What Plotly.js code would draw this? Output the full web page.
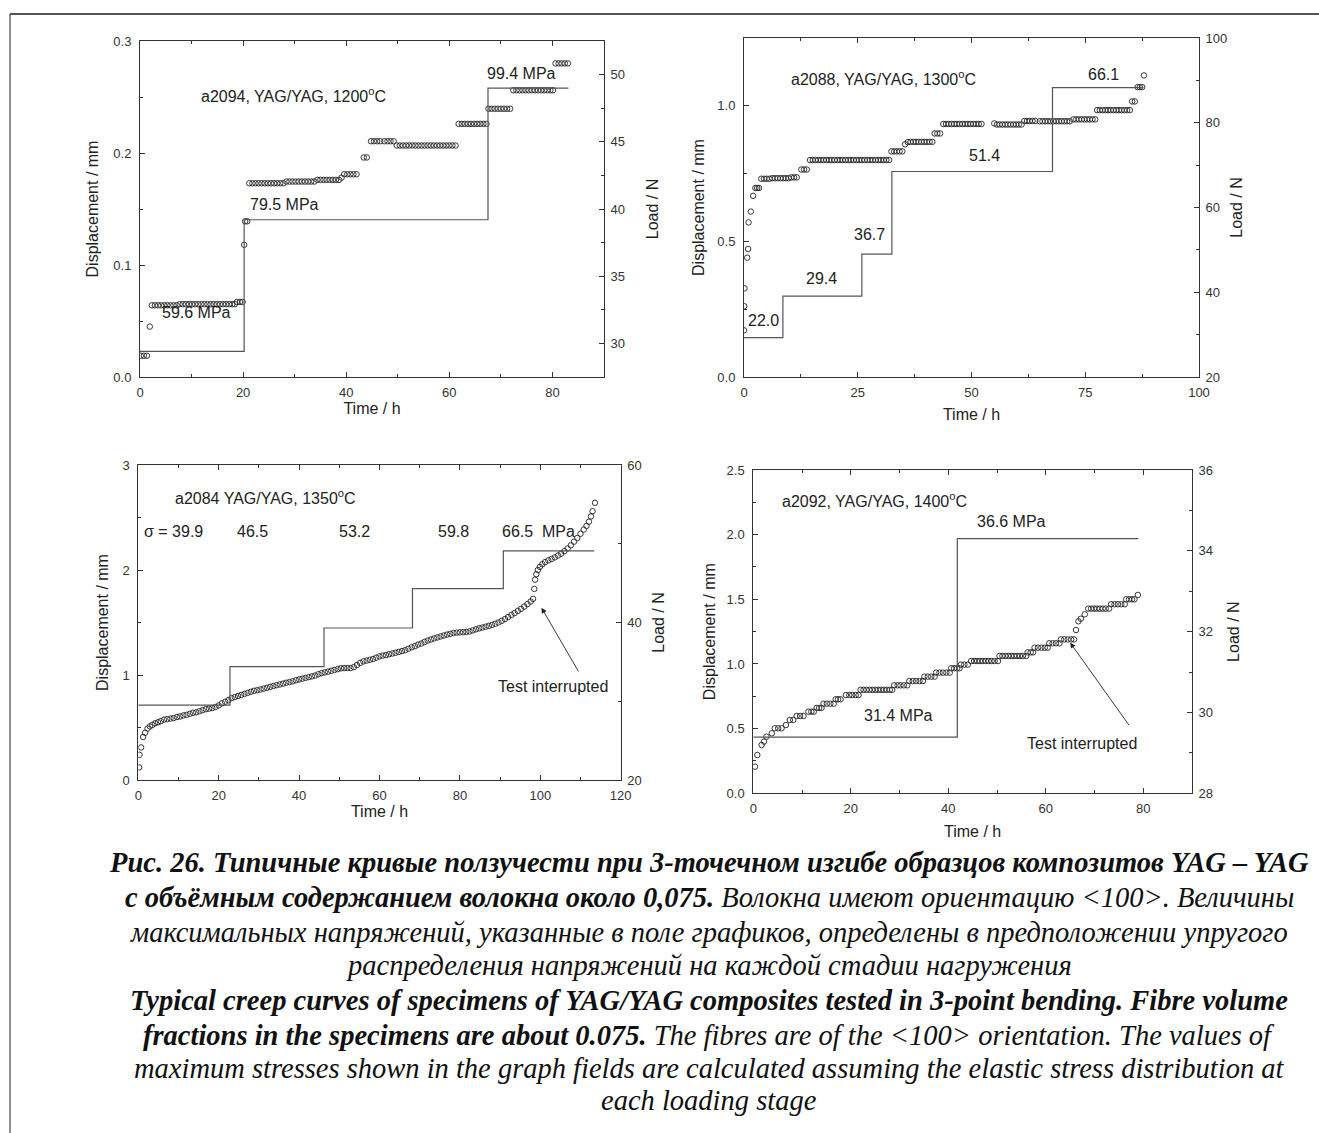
<!DOCTYPE html>
<html>
<head>
<meta charset="utf-8">
<script src="https://cdn.plot.ly/plotly-3.0.1.min.js"></script>
<style>
html,body{margin:0;padding:0;background:#fff;}
#chart{width:1319px;height:1133px;}
</style>
</head>
<body>
<div id="chart"></div>
<script>
// ---------------- DATA ----------------
// Chart 1: a2094, 1200 C  [time h, displacement mm]
const creep1 = [
[0.15,0.019],[0.75,0.019],[1.35,0.019],[1.9,0.045],
[2.3,0.064],[2.9,0.064],[3.5,0.064],[4.1,0.064],[4.7,0.064],[5.3,0.064],[5.9,0.064],[6.5,0.064],[7.1,0.064],
[7.7,0.065],[8.3,0.065],[8.9,0.065],[9.5,0.065],[10.1,0.065],[10.7,0.065],[11.3,0.065],[11.9,0.065],[12.5,0.065],[13.1,0.065],
[13.7,0.065],[14.3,0.065],[14.9,0.065],[15.5,0.065],[16.1,0.065],[16.7,0.065],[17.3,0.065],[17.9,0.065],[18.4,0.065],
[18.8,0.067],[19.4,0.067],[19.9,0.067],[20.2,0.118],[20.4,0.139],[20.8,0.139],
[21.2,0.173],[21.8,0.173],[22.4,0.173],[23.0,0.173],[23.6,0.173],[24.2,0.173],[24.8,0.173],[25.4,0.173],[26.0,0.173],[26.6,0.173],[27.2,0.173],[27.8,0.173],
[28.4,0.1745],[29.0,0.1745],[29.6,0.1745],[30.2,0.1745],[30.8,0.1745],[31.4,0.1745],[32.0,0.1745],[32.6,0.1745],[33.2,0.1745],[33.8,0.1745],
[34.4,0.176],[35.0,0.176],[35.6,0.176],[36.2,0.176],[36.8,0.176],[37.4,0.176],[38.0,0.176],[38.6,0.176],
[39.1,0.178],[39.6,0.181],[40.2,0.181],[40.8,0.181],[41.4,0.181],[42.0,0.181],
[43.4,0.196],[44.0,0.196],
[44.8,0.2105],[45.4,0.2105],[46.0,0.2105],[46.6,0.2105],[47.4,0.2105],[48.0,0.2105],[48.6,0.2105],[49.2,0.2105],
[49.8,0.2067],[50.4,0.2067],[51.0,0.2067],[51.6,0.2067],[52.2,0.2067],[52.8,0.2067],[53.4,0.2067],[54.0,0.2067],[54.6,0.2067],[55.2,0.2067],
[55.8,0.2067],[56.4,0.2067],[57.0,0.2067],[57.6,0.2067],[58.2,0.2067],[58.8,0.2067],[59.4,0.2067],[60.0,0.2067],[60.6,0.2067],[61.2,0.2067],
[61.8,0.226],[62.4,0.226],[63.0,0.226],[63.6,0.226],[64.2,0.226],[64.8,0.226],[65.4,0.226],[66.0,0.226],[66.6,0.226],[67.2,0.226],
[67.6,0.2395],[68.2,0.2395],[68.8,0.2395],[69.4,0.2395],[70.0,0.2395],[70.6,0.2395],[71.2,0.2395],[71.8,0.2395],
[72.4,0.256],[73.0,0.256],[73.6,0.256],[74.2,0.256],[74.8,0.256],[75.4,0.256],[76.0,0.256],[76.6,0.256],[77.2,0.256],[77.8,0.256],
[78.4,0.256],[79.0,0.256],[79.6,0.256],[80.1,0.256],
[80.6,0.280],[81.2,0.280],[81.8,0.280],[82.4,0.280],[83.0,0.280]
];
const loadTime1 = [0, 20.2, 67.5, 83.1];
const load1     = [29.4, 39.2, 49.0, 49.0];

// Chart 2: a2088, 1300 C
const creep2 = [
[0.0,0.172],[0.05,0.261],[0.1,0.327],[0.7,0.44],[0.9,0.472],[1.0,0.57],[1.5,0.61],[2.0,0.668],[2.5,0.697],[2.9,0.697],[3.3,0.697],
[3.8,0.731],[4.4,0.731],[5.0,0.731],[5.6,0.731],[6.2,0.733],[6.8,0.733],[7.4,0.733],[8.0,0.733],[8.6,0.733],[9.2,0.733],[9.8,0.733],
[10.4,0.736],[11.0,0.736],[11.6,0.736],[12.6,0.765],[13.2,0.765],[13.8,0.765],
[14.5,0.80],[15.1,0.80],[15.7,0.80],[16.3,0.80],[16.9,0.80],[17.5,0.80],[18.1,0.80],[18.7,0.80],[19.3,0.80],[19.9,0.80],
[20.5,0.80],[21.1,0.80],[21.7,0.80],[22.3,0.80],[22.9,0.80],[23.5,0.80],[24.1,0.80],[24.7,0.80],[25.3,0.80],[25.9,0.80],
[26.5,0.80],[27.1,0.80],[27.7,0.80],[28.3,0.80],[28.9,0.80],[29.5,0.80],[30.1,0.80],[30.7,0.80],[31.3,0.80],[31.9,0.80],
[32.4,0.832],[33.0,0.832],[33.6,0.832],[34.2,0.832],[34.8,0.832],
[35.4,0.858],[36.0,0.866],[36.6,0.867],[37.2,0.867],[37.8,0.867],[38.4,0.867],[39.0,0.867],[39.6,0.867],[40.2,0.867],[40.8,0.867],[41.4,0.867],
[41.9,0.898],[42.5,0.898],[43.1,0.898],
[43.8,0.933],[44.4,0.933],[45.0,0.933],[45.6,0.933],[46.2,0.933],[46.8,0.933],[47.4,0.933],[48.0,0.933],[48.6,0.933],[49.2,0.933],
[49.8,0.933],[50.4,0.933],[51.0,0.933],[51.6,0.933],[52.2,0.933],
[55.0,0.935],[55.6,0.931],[56.2,0.931],[56.8,0.931],[57.4,0.931],[58.0,0.931],[58.6,0.931],[59.2,0.931],[59.8,0.931],[60.4,0.931],[61.0,0.931],
[61.6,0.944],[62.2,0.944],[62.8,0.944],[63.4,0.944],[64.0,0.944],
[65.0,0.943],[65.6,0.943],[66.2,0.943],[66.8,0.943],[67.4,0.943],[68.0,0.943],[68.6,0.943],[69.2,0.943],[69.8,0.943],[70.4,0.943],[71.0,0.943],[71.6,0.943],
[72.4,0.95],[73.0,0.95],[73.6,0.95],[74.2,0.95],[74.8,0.95],[75.4,0.95],[76.0,0.95],[76.6,0.95],[77.2,0.95],
[77.6,0.984],[78.2,0.984],[78.8,0.984],[79.4,0.984],[80.0,0.984],[80.6,0.984],[81.2,0.984],[81.8,0.984],[82.4,0.984],[83.0,0.984],
[83.6,0.984],[84.2,0.984],[84.8,0.984],
[85.3,1.016],[85.9,1.016],[86.5,1.069],[87.0,1.069],[87.5,1.069],[87.9,1.112]
];
const loadTime2 = [0, 8.55, 25.9, 32.5, 67.8, 87.8];
const load2     = [29.3, 39.1, 49.0, 68.5, 88.3, 88.3];

// Chart 3: a2084, 1350 C
const creep3 = [
[0.2,0.12],[0.3,0.24],[0.7,0.31],[1.2,0.41],[1.7,0.45],[2.3,0.49],[2.9,0.51],[3.5,0.525],[4.2,0.54],[4.9,0.55],
[5.6,0.56],[6.4,0.575],[7.2,0.58],[8.0,0.585],[8.8,0.59],[9.6,0.60],[10.4,0.605],[11.2,0.615],[12.0,0.62],[12.8,0.63],
[13.6,0.64],[14.4,0.645],[15.2,0.655],[16.0,0.665],[16.8,0.675],[17.6,0.68],[18.4,0.685],[19.2,0.695],[20.0,0.71],[20.8,0.73],
[21.6,0.745],[22.4,0.76],[23.2,0.78],[24.0,0.79],[24.8,0.80],[25.6,0.81],[26.4,0.82],[27.2,0.83],[28.0,0.84],[28.8,0.85],
[29.6,0.855],[30.4,0.862],[31.2,0.87],[32.0,0.878],[32.8,0.887],[33.6,0.895],[34.4,0.903],[35.2,0.91],[36.0,0.918],[36.8,0.926],
[37.6,0.933],[38.4,0.94],[39.2,0.95],[40.0,0.958],[40.8,0.965],[41.6,0.972],[42.4,0.98],[43.2,0.987],[44.0,0.995],[44.8,1.008],
[45.6,1.018],[46.4,1.025],[47.2,1.032],[48.0,1.04],[48.8,1.048],[49.6,1.056],[50.4,1.064],[51.2,1.066],[52.0,1.066],[52.8,1.066],
[53.6,1.075],[54.4,1.095],[55.2,1.115],[56.0,1.13],[56.8,1.137],[57.6,1.145],[58.4,1.152],[59.2,1.165],[60.0,1.177],[60.8,1.185],
[61.6,1.19],[62.4,1.198],[63.2,1.205],[64.0,1.212],[64.8,1.22],[65.6,1.228],[66.4,1.236],[67.2,1.25],[68.0,1.265],[68.8,1.275],
[69.6,1.29],[70.4,1.30],[71.2,1.315],[72.0,1.328],[72.8,1.338],[73.6,1.348],[74.4,1.358],[75.2,1.367],[76.0,1.376],[76.8,1.385],
[77.6,1.392],[78.4,1.40],[79.2,1.404],[80.0,1.406],[80.8,1.408],[81.6,1.41],[82.4,1.415],[83.2,1.425],[84.0,1.435],[84.8,1.445],
[85.6,1.452],[86.4,1.46],[87.2,1.468],[88.0,1.477],[88.8,1.488],[89.6,1.50],[90.4,1.515],[91.2,1.533],[92.0,1.552],[92.8,1.572],
[93.6,1.59],[94.4,1.61],[95.2,1.63],[96.0,1.652],[96.8,1.675],[97.6,1.70],[98.2,1.725],
[98.5,1.82],[98.7,1.908],[99.0,1.96],[99.4,2.0],[99.9,2.03],[100.5,2.055],[101.2,2.075],[102.0,2.092],[102.8,2.105],[103.6,2.12],
[104.4,2.138],[105.2,2.155],[106.0,2.18],[106.8,2.205],[107.6,2.235],[108.4,2.27],[109.2,2.305],[110.0,2.345],[110.8,2.385],
[111.5,2.42],[112.1,2.46],[112.6,2.51],[113.0,2.56],[113.6,2.64]
];
const loadTime3 = [0, 22.8, 46.2, 68.2, 90.8, 113.4];
const load3     = [29.5, 34.4, 39.3, 44.3, 49.1, 49.1];

// Chart 4: a2092, 1400 C
const creep4 = [
[0.35,0.206],[0.82,0.296],[1.7,0.374],[2.2,0.40],[2.7,0.438],[3.8,0.464],[4.4,0.503],[5.1,0.503],[5.8,0.503],[6.7,0.528],
[7.5,0.567],[8.2,0.567],[8.9,0.598],[9.6,0.598],[10.3,0.598],[11.3,0.631],[11.9,0.631],[12.4,0.631],[13.0,0.66],[13.5,0.66],
[14.0,0.66],[14.4,0.693],[15.1,0.693],[15.8,0.693],[16.5,0.693],[16.9,0.727],[17.4,0.727],[17.9,0.727],
[19.0,0.76],[19.7,0.76],[20.3,0.76],[21.0,0.76],[21.6,0.76],
[22.0,0.80],[22.6,0.80],[23.2,0.80],[23.8,0.80],[24.4,0.80],[25.0,0.80],[25.6,0.80],[26.2,0.80],[26.8,0.80],[27.4,0.80],[28.0,0.80],[28.5,0.80],
[28.9,0.835],[29.6,0.835],[30.2,0.835],[30.9,0.835],[31.6,0.835],
[32.0,0.868],[32.7,0.868],[33.4,0.868],[34.1,0.868],[34.8,0.868],
[35.1,0.902],[35.8,0.902],[36.5,0.902],[37.2,0.902],
[37.5,0.933],[38.2,0.933],[38.9,0.933],[39.6,0.933],[40.3,0.933],
[40.6,0.967],[41.2,0.967],[41.8,0.967],[42.3,0.967],
[42.6,0.995],[43.3,0.995],[44.0,0.995],
[44.7,1.023],[45.3,1.023],[45.9,1.023],[46.5,1.023],[47.1,1.023],[47.7,1.023],[48.3,1.023],[48.9,1.023],[49.5,1.023],[50.2,1.023],
[50.5,1.062],[51.1,1.062],[51.7,1.062],[52.3,1.062],[52.9,1.062],[53.5,1.062],[54.1,1.062],[54.7,1.062],[55.3,1.062],[56.0,1.062],
[56.3,1.09],[56.9,1.09],[57.4,1.09],
[57.7,1.126],[58.4,1.126],[59.1,1.126],[59.8,1.126],[60.4,1.126],
[60.7,1.16],[61.4,1.16],[62.1,1.16],[62.8,1.16],
[63.1,1.19],[63.8,1.19],[64.5,1.19],[65.2,1.19],[65.8,1.19],
[66.2,1.263],[66.7,1.33],[67.2,1.35],[68.0,1.384],
[68.7,1.428],[69.3,1.428],[69.9,1.428],[70.5,1.428],[71.1,1.428],[71.7,1.428],[72.3,1.428],[73.0,1.428],
[73.4,1.462],[74.1,1.462],[74.8,1.462],[75.5,1.462],[76.2,1.462],
[76.5,1.50],[77.1,1.50],[77.7,1.50],[78.2,1.50],[78.9,1.534]
];
const loadTime4 = [0, 41.85, 79.0];
const load4     = [29.39, 34.30, 34.30];

// Axis ranges per chart
const timeRange  = [[0,90],[0,100],[0,120],[0,90]];
const dispRange  = [[0,0.3],[0,1.25],[0,3],[0,2.5]];
const loadRange  = [[27.5,52.5],[20,100],[20,60],[28,36]];

// Labels
const specimenLabels = ["a2094, YAG/YAG, 1200<sup>o</sup>C","a2088, YAG/YAG, 1300<sup>o</sup>C","a2084 YAG/YAG, 1350<sup>o</sup>C","a2092, YAG/YAG, 1400<sup>o</sup>C"];
const stress1 = ["59.6 MPa","79.5 MPa","99.4 MPa"];
const stress2 = ["22.0","29.4","36.7","51.4","66.1"];
const stress3 = ["σ = 39.9","46.5","53.2","59.8","66.5  MPa"];
const stress4 = ["31.4 MPa","36.6 MPa"];
const captionLines = [
 "Рис. 26. Типичные кривые ползучести при 3-точечном изгибе образцов композитов YAG – YAG",
 "<b>с объёмным содержанием волокна около 0,075.</b> Волокна имеют ориентацию &lt;100&gt;. Величины",
 "максимальных напряжений, указанные в поле графиков, определены в предположении упругого",
 "распределения напряжений на каждой стадии нагружения",
 "Typical creep curves of specimens of YAG/YAG composites tested in 3-point bending. Fibre volume",
 "<b>fractions in the specimens are about 0.075.</b> The fibres are of the &lt;100&gt; orientation. The values of",
 "maximum stresses shown in the graph fields are calculated assuming the elastic stress distribution at",
 "each loading stage"
];
const captionWeight = ["bold","normal","normal","normal","bold","normal","normal","normal"];

// ---------------- LAYOUT ----------------
const W = 1319, H = 1133;
const FONT = "Liberation Sans, Arial, sans-serif";
const SERIF = "Liberation Serif, Times New Roman, serif";
const INK = "#222";
const boxes = [
 {l:140, r:604, t:41, b:377},
 {l:744, r:1199, t:38, b:377},
 {l:138.3, r:620.7, t:465, b:780},
 {l:753.3, r:1192, t:470, b:793.3}
];
const tickCfg = [
 {x:20, xm:10, y:0.1, ym:0.05, yf:".1f", y2:5, y2m:2.5},
 {x:25, xm:12.5, y:0.5, ym:0.25, yf:".1f", y2:20, y2m:10},
 {x:20, xm:10, y:1, ym:0.5, yf:"", y2:20, y2m:10},
 {x:20, xm:10, y:0.5, ym:0.25, yf:".1f", y2:2, y2m:1}
];
const standoffs = [
 {x:1, y:10, y2:22},
 {x:10, y:8, y2:4},
 {x:3, y:9, y2:12},
 {x:10, y:7, y2:15}
];

function baseAxis(){
  return {
    showline:true, linecolor:'#333', linewidth:1,
    ticks:'inside', ticklen:5, tickwidth:1, tickcolor:'#333',
    showgrid:false, zeroline:false, fixedrange:true,
    tickfont:{family:FONT, size:13, color:'#333'},
    ticklabelstandoff:3
  };
}

const layout = {
  width:W, height:H,
  margin:{l:0,r:0,t:0,b:0},
  paper_bgcolor:'#fff', plot_bgcolor:'rgba(0,0,0,0)',
  showlegend:false,
  annotations:[], shapes:[]
};

const traces = [];
const creeps = [creep1, creep2, creep3, creep4];
const loadTimes = [loadTime1, loadTime2, loadTime3, loadTime4];
const loads = [load1, load2, load3, load4];

for (let i=0;i<4;i++){
  const b = boxes[i], tc = tickCfg[i], so = standoffs[i];
  const xn = i===0 ? '' : String(i+1);
  const yl = (2*i+1)===1 ? '' : String(2*i+1);
  const yr = String(2*i+2);
  const xd = [b.l/W, b.r/W];
  const yd = [1-b.b/H, 1-b.t/H];

  layout['xaxis'+xn] = Object.assign(baseAxis(), {
    domain:xd, range:timeRange[i], anchor:'y'+yl, dtick:tc.x, tick0:0,
    mirror:'ticks',
    minor:{ticks:'inside', ticklen:3, tickcolor:'#333', dtick:tc.xm, tick0:0, showgrid:false},
    title:{text:'Time / h', standoff:so.x, font:{family:FONT, size:16, color:INK}}
  });
  layout['yaxis'+yl] = Object.assign(baseAxis(), {
    domain:yd, range:dispRange[i], anchor:'x'+xn, dtick:tc.y, tick0:0, tickformat:tc.yf,
    minor:{ticks:'inside', ticklen:3, tickcolor:'#333', dtick:tc.ym, tick0:0, showgrid:false},
    ticklabelstandoff:5,
    title:{text:'Displacement / mm', standoff:so.y, font:{family:FONT, size:16, color:INK}}
  });
  layout['yaxis'+yr] = Object.assign(baseAxis(), {
    overlaying:'y'+yl, side:'right', anchor:'x'+xn, range:loadRange[i], dtick:tc.y2, tick0:0,
    minor:{ticks:'inside', ticklen:3, tickcolor:'#333', dtick:tc.y2m, tick0:0, showgrid:false},
    title:{text:'Load / N', standoff:so.y2, font:{family:FONT, size:16, color:INK}}
  });

  traces.push({
    type:'scatter', mode:'markers', xaxis:'x'+xn, yaxis:'y'+yl,
    x:creeps[i].map(p=>p[0]), y:creeps[i].map(p=>p[1]),
    marker:{symbol:'circle-open', size:5.5, color:'#222', line:{width:0.9, color:'#222'}},
    hoverinfo:'skip'
  });
  traces.push({
    type:'scatter', mode:'lines', xaxis:'x'+xn, yaxis:'y'+yr,
    x:loadTimes[i], y:loads[i],
    line:{shape:'hv', color:'#555', width:1.2},
    hoverinfo:'skip'
  });
}

function txt(xref, yref, x, y, text, opts){
  layout.annotations.push(Object.assign({
    xref:xref, yref:yref, x:x, y:y, text:text, showarrow:false,
    xanchor:'center', yanchor:'middle',
    font:{family:FONT, size:16, color:INK}
  }, opts||{}));
}

// Chart 1 labels
txt('x','y',29.7,0.252,specimenLabels[0]);
txt('x','y',10.9,0.058,stress1[0]);
txt('x','y',28.0,0.154,stress1[1]);
txt('x','y',73.9,0.271,stress1[2]);
// Chart 2 labels
txt('x2','y3',30.7,1.104,specimenLabels[1]);
txt('x2','y3',4.3,0.21,stress2[0]);
txt('x2','y3',17.0,0.364,stress2[1]);
txt('x2','y3',27.5,0.524,stress2[2]);
txt('x2','y3',52.8,0.816,stress2[3]);
txt('x2','y3',79.1,1.116,stress2[4]);
// Chart 3 labels
txt('x3','y5',31.7,2.70,specimenLabels[2]);
txt('x3','y5',0.8,2.37,stress3[0],{xanchor:'left'});
txt('x3','y5',28.4,2.37,stress3[1]);
txt('x3','y5',53.7,2.37,stress3[2]);
txt('x3','y5',78.5,2.37,stress3[3]);
txt('x3','y5',99.6,2.37,stress3[4]);
txt('x3','y5',103.2,0.89,'Test interrupted');
layout.annotations.push({xref:'x3', yref:'y5', axref:'x3', ayref:'y5', x:100.3, y:1.64, ax:109.7, ay:1.02,
  text:'', showarrow:true, arrowhead:2, arrowsize:1.2, arrowwidth:0.9, arrowcolor:'#222', standoff:0, startstandoff:0});
// Chart 4 labels
txt('x4','y7',24.8,2.27,specimenLabels[3]);
txt('x4','y7',53.0,2.10,stress4[1]);
txt('x4','y7',29.7,0.605,stress4[0]);
txt('x4','y7',67.5,0.387,'Test interrupted');
layout.annotations.push({xref:'x4', yref:'y7', axref:'x4', ayref:'y7', x:65.0, y:1.165, ax:77.3, ay:0.515,
  text:'', showarrow:true, arrowhead:2, arrowsize:1.2, arrowwidth:0.9, arrowcolor:'#222', standoff:0, startstandoff:0});

// Caption
const capY = [862, 897, 932, 965, 1000, 1035, 1068, 1100];
captionLines.forEach((line, k)=>{
  layout.annotations.push({
    xref:'paper', yref:'paper', x:709/W, y:1-capY[k]/H, text:line, showarrow:false,
    xanchor:'center', yanchor:'middle',
    font:{family:SERIF, size:28.5, color:'#111', style:'italic', weight:captionWeight[k]}
  });
});

// Page frame (top and left rules)
layout.shapes.push({type:'line', xref:'paper', yref:'paper', x0:10/W, x1:1, y0:1-14/H, y1:1-14/H, line:{color:'#555', width:2}});
layout.shapes.push({type:'line', xref:'paper', yref:'paper', x0:10/W, x1:10/W, y0:1-14/H, y1:0, line:{color:'#444', width:1.2}});

Plotly.newPlot('chart', traces, layout, {staticPlot:true, displayModeBar:false});
</script>
</body>
</html>
